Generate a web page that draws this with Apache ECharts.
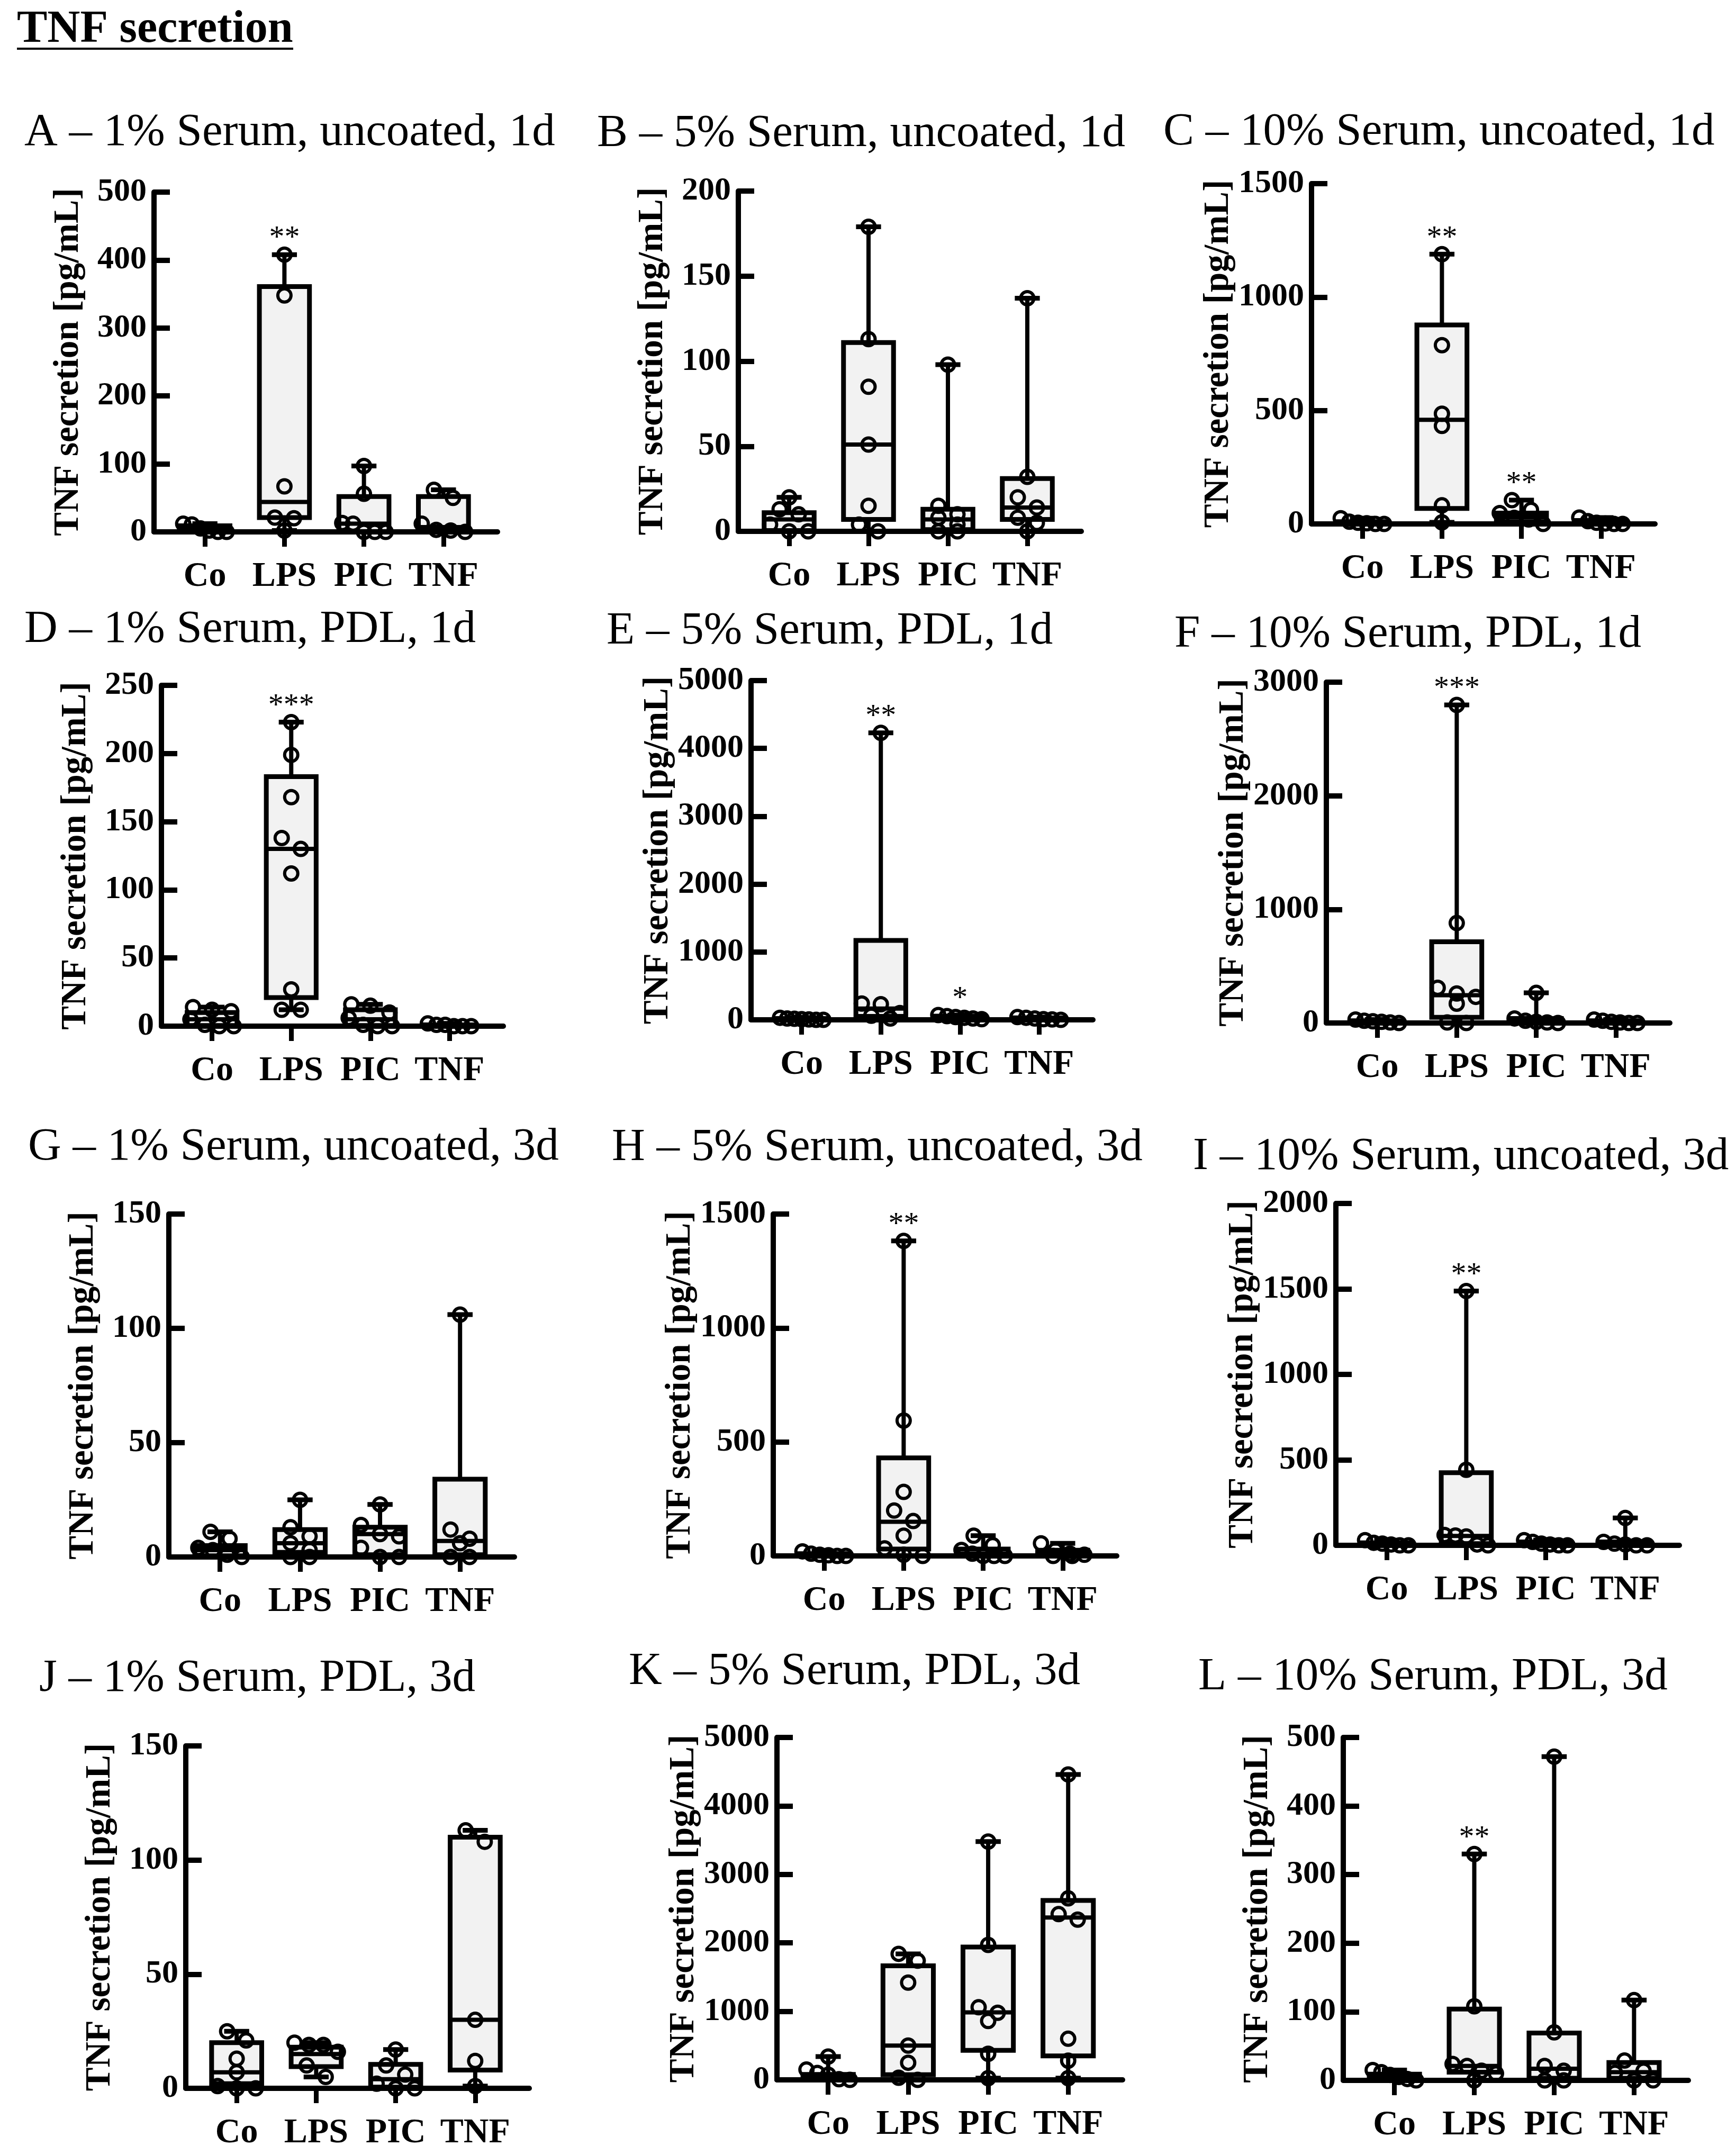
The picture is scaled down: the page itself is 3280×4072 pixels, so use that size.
<!DOCTYPE html>
<html>
<head>
<meta charset="utf-8">
<script src="https://cdn.jsdelivr.net/npm/echarts@6/dist/echarts.min.js"></script>
<style>
  html, body { margin: 0; padding: 0; background: #ffffff; }
  #chart { width: 3280px; height: 4072px; }
</style>
</head>
<body>
<div id="chart"></div>
<script>
// ---------------- DATA ----------------
const mainTitle = 'TNF secretion';
const yAxisTitle = 'TNF secretion [pg/mL]';
const categories = ['Co', 'LPS', 'PIC', 'TNF'];
const panelTitles = [
  'A – 1% Serum, uncoated, 1d', 'B – 5% Serum, uncoated, 1d', 'C – 10% Serum, uncoated, 1d',
  'D – 1% Serum, PDL, 1d', 'E – 5% Serum, PDL, 1d', 'F – 10% Serum, PDL, 1d',
  'G – 1% Serum, uncoated, 3d', 'H – 5% Serum, uncoated, 3d', 'I – 10% Serum, uncoated, 3d',
  'J – 1% Serum, PDL, 3d', 'K – 5% Serum, PDL, 3d', 'L – 10% Serum, PDL, 3d'
];
const yMaxes    = [500, 200, 1500, 250, 5000, 3000, 150, 1500, 2000, 150, 5000, 500];
const yIntervals = [100, 50, 500, 50, 1000, 1000, 50, 500, 500, 50, 1000, 100];

// box statistics per category: [min, Q1, median, Q3, max]
const boxesA = [[0, 1, 4, 9, 12], [2, 21, 44, 361, 408], [0, 0.5, 12, 52, 97], [0, 1, 7, 52, 62]];
const boxesB = [[0, 0.5, 7, 11, 20], [0, 7, 51, 111, 179], [0, 1, 7, 13, 98], [0, 7, 14, 31, 137]];
const boxesC = [[0, 1, 4, 10, 25], [7, 68, 459, 877, 1189], [0, 10, 30, 48, 105], [0, 1, 4, 15, 28]];
const boxesD = [[0, 0.5, 5, 10, 14], [12, 21, 130, 183, 223], [0, 0.5, 5, 12, 16], [0, 0, 0.5, 1, 2]];
const boxesE = [[0, 2, 10, 20, 30], [20, 50, 165, 1170, 4230], [10, 20, 35, 55, 70], [0, 5, 15, 30, 40]];
const boxesF = [[0, 3, 12, 20, 30], [0, 50, 245, 715, 2800], [0, 3, 12, 40, 265], [0, 2, 8, 20, 30]];
const boxesG = [[0, 0.5, 3, 5, 11], [0, 2, 6, 12, 25], [0, 1, 10, 13, 23], [0, 1, 7, 34, 106]];
const boxesH = [[0, 1, 4, 10, 20], [0, 30, 150, 430, 1382], [0, 0, 10, 30, 89], [0, 2, 8, 25, 55]];
const boxesI = [[0, 2, 8, 15, 30], [0, 10, 55, 425, 1488], [0, 2, 8, 20, 30], [0, 2, 8, 20, 160]];
const boxesJ = [[0, 2, 7, 20, 25], [5, 9.5, 15, 18, 20], [0, 0.5, 4, 10.5, 17], [1, 8, 30, 110, 113]];
const boxesK = [[0, 10, 50, 80, 340], [0, 75, 500, 1665, 1840], [25, 430, 985, 1940, 3480], [25, 350, 2370, 2620, 4460]];
const boxesL = [[0, 1, 5, 9, 15], [0, 12, 21, 104, 330], [0, 3, 17, 69, 472], [0, 3, 12, 26, 117]];

// individual replicate values per category
const pointsA = [[12, 11, 5, 2, 0, 0], [408, 348, 67, 21, 20, 2], [97, 56, 13, 12, 0, 0, 0], [62, 50, 12, 3, 2, 0]];
const pointsB = [[20, 13, 10, 4, 0, 0], [179, 113, 85, 51, 15, 4, 0], [98, 15, 10, 8, 4, 0, 0], [137, 32, 20, 14, 8, 5, 0]];
const pointsC = [[25, 10, 5, 3, 0, 0], [1189, 788, 486, 432, 82, 7], [105, 62, 48, 27, 20, 0], [28, 12, 5, 2, 0, 0]];
const pointsD = [[14, 12, 11, 5, 1, 0, 0], [223, 199, 168, 138, 130, 112, 27, 12, 12], [16, 15, 10, 6, 1, 0, 0], [2, 1, 1, 0, 0, 0]];
const pointsE = [[30, 20, 15, 10, 5, 0, 0], [4230, 240, 230, 100, 60, 20], [70, 55, 40, 30, 20, 10], [40, 30, 20, 10, 5, 0]];
const pointsF = [[30, 20, 15, 10, 5, 0], [2800, 880, 310, 260, 230, 170, 5, 0], [265, 40, 20, 10, 5, 0], [30, 20, 10, 5, 0, 0]];
const pointsG = [[11, 8, 4, 3, 1, 0], [25, 13, 9, 6, 3, 0, 0], [23, 14, 10, 9, 4, 0, 0], [106, 12, 8, 6, 0, 0]];
const pointsH = [[20, 10, 5, 3, 0, 0], [1382, 594, 281, 199, 153, 89, 33, 5, 0], [89, 47, 26, 10, 0, 0, 0], [55, 25, 10, 5, 0, 0]];
const pointsI = [[30, 15, 10, 5, 0, 0], [1488, 442, 60, 57, 52, 5, 0], [30, 20, 10, 5, 0, 0], [160, 20, 10, 5, 0, 0]];
const pointsJ = [[25, 21, 13, 7, 1, 0, 0], [20, 19, 19, 16, 10, 5], [17, 10, 6, 2, 0, 0], [113, 108, 30, 12, 1]];
const pointsK = [[340, 150, 100, 75, 10, 0], [1840, 1740, 1420, 500, 250, 30, 0], [3480, 1970, 1060, 980, 860, 380, 25], [4460, 2650, 2420, 2340, 600, 280, 25]];
const pointsL = [[15, 12, 8, 5, 2, 0], [330, 108, 24, 21, 14, 10, 0], [472, 70, 21, 14, 0, 0], [117, 29, 14, 11, 0, 0]];

// significance marks per category
const starsA = ['', '**', '', ''];
const starsB = ['', '', '', ''];
const starsC = ['', '**', '**', ''];
const starsD = ['', '***', '', ''];
const starsE = ['', '**', '*', ''];
const starsF = ['', '***', '', ''];
const starsG = ['', '', '', ''];
const starsH = ['', '**', '', ''];
const starsI = ['', '**', '', ''];
const starsJ = ['', '', '', ''];
const starsK = ['', '', '', ''];
const starsL = ['', '**', '', ''];

const boxes  = [boxesA, boxesB, boxesC, boxesD, boxesE, boxesF, boxesG, boxesH, boxesI, boxesJ, boxesK, boxesL];
const points = [pointsA, pointsB, pointsC, pointsD, pointsE, pointsF, pointsG, pointsH, pointsI, pointsJ, pointsK, pointsL];
const stars  = [starsA, starsB, starsC, starsD, starsE, starsF, starsG, starsH, starsI, starsJ, starsK, starsL];

// ---------------- LAYOUT ----------------
const FONT = '"Liberation Serif", "Times New Roman", serif';
// [y-axis x, x-axis end x, top (max) y, zero y]
const gridBox = [
  [291, 940, 363, 1005], [1395, 2043, 361, 1004], [2478, 3127, 347, 990],
  [305, 951, 1295, 1939], [1419, 2065, 1286, 1927], [2506, 3155, 1289, 1933],
  [319, 972, 2294, 2942], [1461, 2110, 2294, 2940], [2524, 3173, 2274, 2920],
  [351, 1000, 3299, 3946], [1468, 2121, 3283, 3930], [2538, 3190, 3283, 3931]
];
// [left x, baseline y]
const titleAt = [
  [46, 272], [1128, 274], [2198, 271],
  [46, 1211], [1146, 1214], [2219, 1220],
  [53, 2189], [1156, 2190], [2254, 2207],
  [74, 3193], [1188, 3180], [2264, 3190]
];
const X_MIN = -0.64, X_MAX = 3.68;
const BOX_W = 0.63;
const TITLE_FS = 87;

function swarm(ys) {
  const order = ys.map((y, i) => i).sort((a, b) => ys[a] - ys[b]);
  const rows = [];
  let cur = null;
  order.forEach(i => {
    if (!cur || ys[i] - ys[cur[0]] > 22) { cur = [i]; rows.push(cur); }
    else cur.push(i);
  });
  const off = [];
  rows.forEach(row => {
    const n = row.length;
    const sp = n > 1 ? Math.min(36, 82 / (n - 1)) : 0;
    row.forEach((i, k) => { off[i] = (k - (n - 1) / 2) * sp; });
  });
  return off;
}

const grids = [], xAxes = [], yAxes = [], series = [], graphics = [];

graphics.push({
  type: 'text', x: 32, y: 83 - 0.30 * 86,
  style: { text: mainTitle, fontSize: 86, fontWeight: 'bold', fontFamily: FONT, fill: '#000', align: 'left', verticalAlign: 'middle' }
});
graphics.push({
  type: 'line', shape: { x1: 32, y1: 92, x2: 554, y2: 92 },
  style: { stroke: '#000', lineWidth: 4 }
});

panelTitles.forEach((t, p) => {
  graphics.push({
    type: 'text', x: titleAt[p][0], y: titleAt[p][1] - 0.24 * TITLE_FS,
    style: { text: t, fontSize: TITLE_FS, fontFamily: FONT, fill: '#000', align: 'left', verticalAlign: 'middle' }
  });
});

for (let p = 0; p < 12; p++) {
  const g = gridBox[p];
  grids.push({ left: g[0], top: g[2], width: g[1] - g[0], height: g[3] - g[2], containLabel: false, outerBoundsMode: 'none' });
  xAxes.push({
    type: 'value', gridIndex: p, min: X_MIN, max: X_MAX,
    axisLine: { show: true, onZero: false, lineStyle: { color: '#000', width: 10 } },
    axisTick: { show: true, customValues: [0, 1, 2, 3], length: 28, lineStyle: { color: '#000', width: 9 } },
    axisLabel: {
      show: true, customValues: [0, 1, 2, 3], margin: 52,
      formatter: v => categories[Math.round(v)] || '',
      fontSize: 66, fontWeight: 'bold', fontFamily: FONT, color: '#000'
    },
    splitLine: { show: false }
  });
  yAxes.push({
    type: 'value', gridIndex: p, min: 0, max: yMaxes[p], interval: yIntervals[p],
    name: yAxisTitle, nameLocation: 'middle', nameGap: 128,
    nameTextStyle: { fontSize: 67, fontWeight: 'bold', fontFamily: FONT, color: '#000' },
    axisLine: { show: true, onZero: false, lineStyle: { color: '#000', width: 10 } },
    axisTick: { show: true, inside: true, length: 30, lineStyle: { color: '#000', width: 10 } },
    axisLabel: {
      fontSize: 62, fontWeight: 'bold', fontFamily: FONT, color: '#000', margin: 14,
      formatter: v => String(v)
    },
    splitLine: { show: false }
  });

  // boxes + whiskers + stars
  series.push({
    type: 'custom', xAxisIndex: p, yAxisIndex: p, clip: false, z: 2,
    data: boxes[p].map((b, i) => [i, b[0], b[1], b[2], b[3], b[4]]),
    encode: { x: 0, y: [1, 2, 3, 4, 5] },
    renderItem: (params, api) => {
      const i = api.value(0);
      const vmin = api.value(1), q1 = api.value(2), med = api.value(3), q3 = api.value(4), vmax = api.value(5);
      const px = api.coord([i, med])[0];
      const yMin = api.coord([i, vmin])[1];
      const yQ1 = api.coord([i, q1])[1];
      const yMed = api.coord([i, med])[1];
      const yQ3 = api.coord([i, q3])[1];
      const yMax = api.coord([i, vmax])[1];
      const bw = api.size([BOX_W, 0])[0];
      const cw = bw * 0.5;
      const ls = { stroke: '#000', lineWidth: 8, fill: null };
      const children = [
        { type: 'line', shape: { x1: px, y1: yQ3, x2: px, y2: yMax }, style: ls },
        { type: 'line', shape: { x1: px, y1: yQ1, x2: px, y2: yMin }, style: ls },
        { type: 'line', shape: { x1: px - cw / 2, y1: yMax, x2: px + cw / 2, y2: yMax }, style: { stroke: '#000', lineWidth: 9 } },
        { type: 'line', shape: { x1: px - cw / 2, y1: yMin, x2: px + cw / 2, y2: yMin }, style: { stroke: '#000', lineWidth: 9 } },
        { type: 'rect', shape: { x: px - bw / 2, y: yQ3, width: bw, height: Math.max(yQ1 - yQ3, 0.5) },
          style: { fill: '#f2f2f2', stroke: '#000', lineWidth: 9, lineJoin: 'miter' } },
        { type: 'line', shape: { x1: px - bw / 2, y1: yMed, x2: px + bw / 2, y2: yMed }, style: { stroke: '#000', lineWidth: 8 } }
      ];
      const s = stars[p][i];
      if (s) {
        children.push({
          type: 'text', x: px, y: yMax - 30,
          style: { text: s, fontSize: 58, fontFamily: FONT, fill: '#000', align: 'center', verticalAlign: 'middle' }
        });
      }
      return { type: 'group', children };
    }
  });

  // individual points
  const pdata = [];
  points[p].forEach((grp, i) => grp.forEach((v, k) => pdata.push([i, v, k])));
  series.push({
    type: 'custom', xAxisIndex: p, yAxisIndex: p, clip: false, z: 3,
    data: pdata,
    encode: { x: 0, y: 1 },
    renderItem: (params, api) => {
      const i = api.value(0), v = api.value(1), k = api.value(2);
      const grp = points[p][i];
      const ys = grp.map(val => api.coord([i, val])[1]);
      const off = swarm(ys);
      const c = api.coord([i, v]);
      return {
        type: 'circle', shape: { cx: c[0] + off[k], cy: c[1], r: 12.5 },
        style: { fill: 'none', stroke: '#000', lineWidth: 6 }
      };
    }
  });
}

const chart = echarts.init(document.getElementById('chart'), null, { renderer: 'canvas' });
chart.setOption({
  backgroundColor: '#ffffff',
  animation: false,
  grid: grids,
  xAxis: xAxes,
  yAxis: yAxes,
  series: series,
  graphic: graphics
});
</script>
</body>
</html>
